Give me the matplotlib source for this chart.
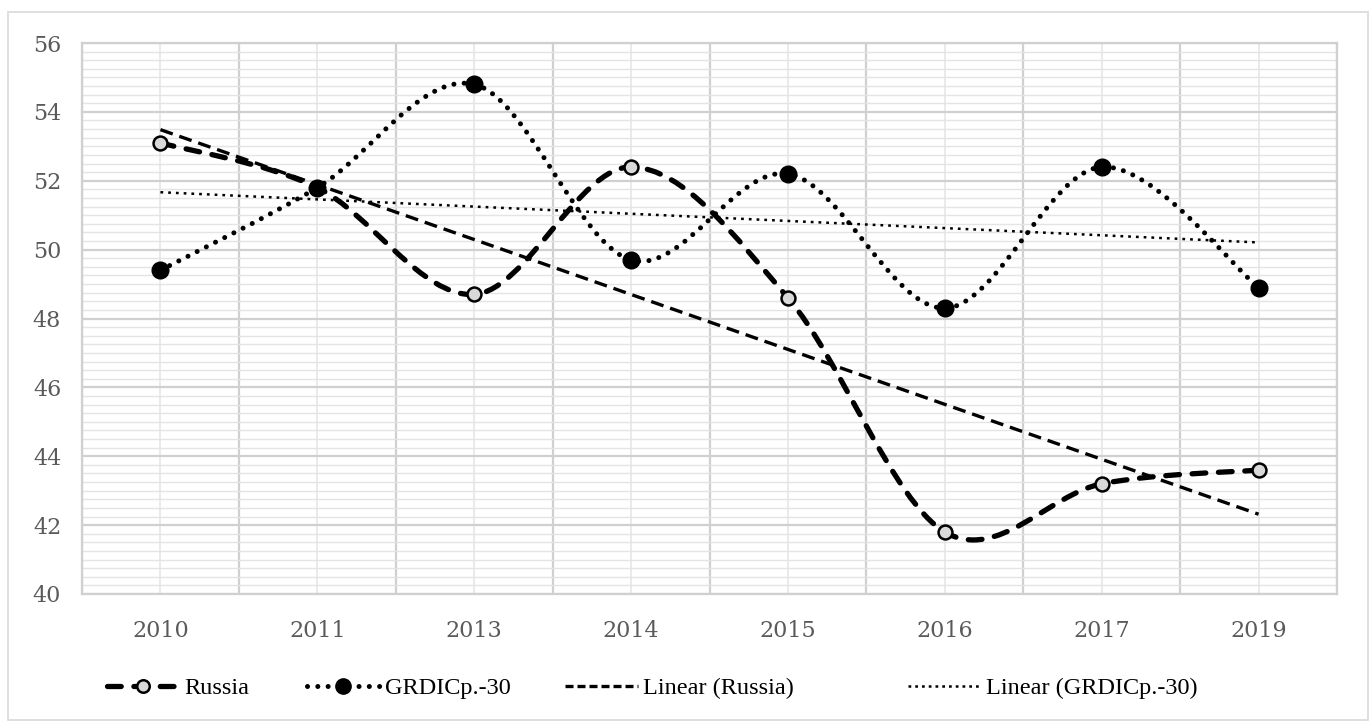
import numpy as np
import matplotlib
matplotlib.use("Agg")
import matplotlib.pyplot as plt
from matplotlib.path import Path
from matplotlib.patches import PathPatch, Rectangle
from matplotlib.lines import Line2D
from matplotlib.ticker import MultipleLocator

years = ["2010", "2011", "2013", "2014", "2015", "2016", "2017", "2019"]
russia = [53.1, 51.8, 48.7, 52.4, 48.6, 41.8, 43.2, 43.6]
grdic = [49.4, 51.8, 54.8, 49.7, 52.2, 48.3, 52.4, 48.9]
yticks = [40, 42, 44, 46, 48, 50, 52, 54, 56]

fig = plt.figure(figsize=(13.71, 7.24), dpi=100)
ax = fig.add_axes([82 / 1371, 1 - 594 / 724, (1337 - 82) / 1371, (594 - 43) / 724])

x = np.arange(len(years)) + 0.5


def smooth_path(xs, ys):
    pts = np.column_stack([xs, ys])
    n = len(pts)
    verts = [pts[0]]
    codes = [Path.MOVETO]
    for i in range(n - 1):
        p0 = pts[i - 1] if i > 0 else pts[i]
        p1 = pts[i]
        p2 = pts[i + 1]
        p3 = pts[i + 2] if i + 2 < n else pts[i + 1]
        c1 = p1 + (p2 - p0) / 6.0
        c2 = p2 - (p3 - p1) / 6.0
        verts += [c1, c2, p2]
        codes += [Path.CURVE4] * 3
    return Path(verts, codes)


# grid
ax.set_xlim(0, len(years))
ax.set_ylim(40, 56)
ax.yaxis.set_major_locator(MultipleLocator(2))
ax.yaxis.set_minor_locator(MultipleLocator(0.25))
ax.set_xticks(x)
ax.set_xticklabels(years)
ax.set_xticks(np.arange(0, len(years) + 1), minor=True)
ax.set_yticks(yticks)
ax.set_axisbelow(True)
ax.grid(which="major", axis="y", color="#d0d0d0", lw=1.6)
ax.grid(which="minor", axis="y", color="#e4e4e4", lw=1.0)
ax.grid(which="minor", axis="x", color="#d0d0d0", lw=1.6)
ax.grid(which="major", axis="x", color="#e6e6e6", lw=1.2)
for s in ax.spines.values():
    s.set_color("#d0d0d0")
    s.set_linewidth(1.6)
ax.tick_params(which="both", length=0)
ax.tick_params(axis="y", pad=15, labelsize=16, labelcolor="#5a5a5a")
ax.tick_params(axis="x", pad=19, labelsize=16, labelcolor="#5a5a5a")
for lab in ax.get_xticklabels() + ax.get_yticklabels():
    lab.set_family("DejaVu Serif")

# trend lines (least squares on category index)
idx = np.arange(1, len(years) + 1)
kr = np.polyfit(idx, russia, 1)
kg = np.polyfit(idx, grdic, 1)
ax.plot(x, np.polyval(kr, idx), color="black", lw=2.4, ls=(0, (3.9, 2.1)), zorder=3)
ax.plot(x, np.polyval(kg, idx), color="black", lw=1.8, ls=(0, (1.1, 2.0)), zorder=3)

# smoothed series
pr = PathPatch(smooth_path(x, russia), fill=False, edgecolor="black", lw=3.8,
               ls=(0, (2.6, 2.4)), capstyle="round", zorder=4)
ax.add_patch(pr)
pg = PathPatch(smooth_path(x, grdic), fill=False, edgecolor="black", lw=3.6,
               ls=(0, (0.01, 2.05)), capstyle="round", zorder=4)
ax.add_patch(pg)
ax.plot(x, russia, ls="none", marker="o", ms=10, mfc="#d9d9d9", mec="black", mew=1.8, zorder=5)
ax.plot(x, grdic, ls="none", marker="o", ms=12, mfc="black", mec="black", zorder=5)

# legend entries
handles = [
    Line2D([], [], color="black", lw=3.8, ls=(0, (2.6, 2.4)), dash_capstyle="round",
           marker="o", ms=9, mfc="#d9d9d9", mec="black", mew=1.8),
    Line2D([], [], color="black", lw=3.6, ls=(0, (0.01, 2.05)), dash_capstyle="round",
           marker="o", ms=11, mfc="black", mec="black"),
    Line2D([], [], color="black", lw=2.4, ls=(0, (2.4, 1.2))),
    Line2D([], [], color="black", lw=1.8, ls=(0, (1.1, 1.6))),
]
labels = ["Russia", "GRDICp.-30", "Linear (Russia)", "Linear (GRDICp.-30)"]
anchors = [107, 307, 565, 908]
for h, l, a in zip(handles, labels, anchors):
    fig.legend([h], [l], loc="center left", bbox_to_anchor=(a / 1371, 1 - 688 / 724),
               frameon=False, handlelength=3.0, handletextpad=0.2, borderpad=0,
               borderaxespad=0, prop={"family": "Liberation Serif", "size": 17.5})

fig.patches.append(Rectangle((8 / 1371, 1 - 720 / 724), 1360 / 1371, 708 / 724,
                             transform=fig.transFigure, fill=False,
                             edgecolor="#d9d9d9", lw=1.2))

fig.savefig("out.png", dpi=100)
